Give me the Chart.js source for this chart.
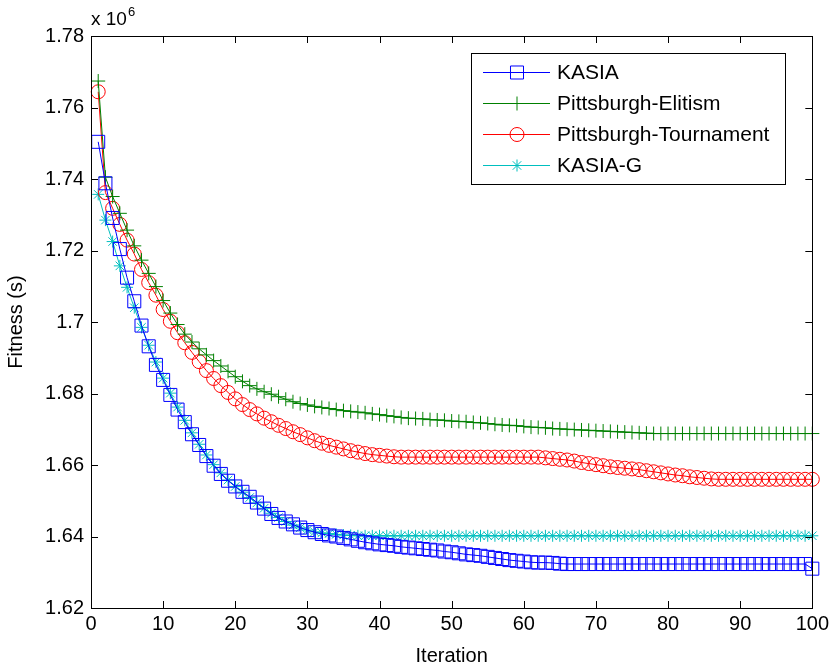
<!DOCTYPE html>
<html>
<head>
<meta charset="utf-8">
<script src="https://cdn.jsdelivr.net/npm/chart.js@4"></script>
<style>
  html, body { margin: 0; padding: 0; background: #fff; }
  canvas { display: block; }
</style>
</head>
<body>
<canvas id="myChart" width="833" height="666"></canvas>
<script>
// iterations 1..100
const iterations = [
  1, 2, 3, 4, 5, 6, 7, 8, 9, 10, 11, 12, 13, 14, 15, 16, 17, 18, 19, 20,
  21, 22, 23, 24, 25, 26, 27, 28, 29, 30, 31, 32, 33, 34, 35, 36, 37, 38, 39, 40,
  41, 42, 43, 44, 45, 46, 47, 48, 49, 50, 51, 52, 53, 54, 55, 56, 57, 58, 59, 60,
  61, 62, 63, 64, 65, 66, 67, 68, 69, 70, 71, 72, 73, 74, 75, 76, 77, 78, 79, 80,
  81, 82, 83, 84, 85, 86, 87, 88, 89, 90, 91, 92, 93, 94, 95, 96, 97, 98, 99, 100
];

// fitness values, x 10^6
const kasia = [
  1.7504, 1.7388, 1.7291, 1.7204, 1.7124, 1.7058, 1.6990, 1.6932, 1.6880, 1.6838,
  1.6796, 1.6755, 1.6720, 1.6686, 1.6656, 1.6625, 1.6598, 1.6575, 1.6556, 1.6540,
  1.6525, 1.6511, 1.6495, 1.6478, 1.6463, 1.6452, 1.6442, 1.6434, 1.6425, 1.6418,
  1.6412, 1.6407, 1.6403, 1.6400, 1.6396, 1.6392, 1.6388, 1.6384, 1.6381, 1.6378,
  1.6376, 1.6374, 1.6371, 1.6369, 1.6367, 1.6365, 1.6363, 1.6361, 1.6358, 1.6356,
  1.6353, 1.6350, 1.6348, 1.6346, 1.6343, 1.6340, 1.6337, 1.6334, 1.6332, 1.6330,
  1.6328, 1.6327, 1.6327, 1.6326, 1.6324, 1.6323, 1.6323, 1.6323, 1.6323, 1.6323,
  1.6323, 1.6323, 1.6323, 1.6323, 1.6323, 1.6323, 1.6323, 1.6323, 1.6323, 1.6323,
  1.6323, 1.6323, 1.6323, 1.6323, 1.6323, 1.6323, 1.6323, 1.6323, 1.6323, 1.6323,
  1.6323, 1.6323, 1.6323, 1.6323, 1.6323, 1.6323, 1.6323, 1.6323, 1.6323, 1.6310
];

const elitism = [
  1.7674, 1.7405, 1.7351, 1.7304, 1.7257, 1.7213, 1.7173, 1.7136, 1.7099, 1.7060,
  1.7025, 1.6993, 1.6966, 1.6944, 1.6925, 1.6908, 1.6892, 1.6877, 1.6862, 1.6847,
  1.6834, 1.6822, 1.6813, 1.6805, 1.6798, 1.6791, 1.6784, 1.6777, 1.6772, 1.6768,
  1.6764, 1.6761, 1.6758, 1.6755, 1.6752, 1.6750, 1.6748, 1.6746, 1.6743, 1.6741,
  1.6738, 1.6736, 1.6733, 1.6731, 1.6730, 1.6729, 1.6727, 1.6726, 1.6725, 1.6723,
  1.6722, 1.6721, 1.6719, 1.6718, 1.6716, 1.6714, 1.6712, 1.6711, 1.6710, 1.6708,
  1.6706, 1.6705, 1.6704, 1.6702, 1.6701, 1.6700, 1.6699, 1.6698, 1.6697, 1.6696,
  1.6695, 1.6694, 1.6693, 1.6692, 1.6691, 1.6690, 1.6689, 1.6688, 1.6688, 1.6688,
  1.6688, 1.6688, 1.6688, 1.6688, 1.6688, 1.6688, 1.6688, 1.6688, 1.6688, 1.6688,
  1.6688, 1.6688, 1.6688, 1.6688, 1.6688, 1.6688, 1.6688, 1.6688, 1.6688, 1.6688
];

const tournament = [
  1.7644, 1.7362, 1.7318, 1.7273, 1.7229, 1.7190, 1.7147, 1.7110, 1.7075, 1.7035,
  1.7002, 1.6970, 1.6942, 1.6915, 1.6889, 1.6864, 1.6842, 1.6822, 1.6803, 1.6785,
  1.6769, 1.6755, 1.6743, 1.6731, 1.6721, 1.6711, 1.6702, 1.6693, 1.6685, 1.6676,
  1.6668, 1.6661, 1.6655, 1.6650, 1.6645, 1.6640, 1.6636, 1.6632, 1.6629, 1.6627,
  1.6625, 1.6623, 1.6622, 1.6622, 1.6622, 1.6622, 1.6622, 1.6622, 1.6622, 1.6622,
  1.6622, 1.6622, 1.6622, 1.6622, 1.6622, 1.6622, 1.6622, 1.6622, 1.6622, 1.6622,
  1.6622, 1.6622, 1.6620, 1.6618, 1.6616, 1.6614, 1.6611, 1.6607, 1.6604, 1.6601,
  1.6598, 1.6595, 1.6593, 1.6591, 1.6589, 1.6587, 1.6584, 1.6581, 1.6578, 1.6575,
  1.6572, 1.6570, 1.6567, 1.6565, 1.6563, 1.6561, 1.6560, 1.6560, 1.6560, 1.6560,
  1.6560, 1.6560, 1.6560, 1.6560, 1.6560, 1.6560, 1.6560, 1.6560, 1.6560, 1.6560
];

const kasiaG = [
  1.7357, 1.7285, 1.7225, 1.7157, 1.7097, 1.7040, 1.6985, 1.6935, 1.6888, 1.6843,
  1.6801, 1.6762, 1.6725, 1.6690, 1.6658, 1.6628, 1.6601, 1.6578, 1.6558, 1.6540,
  1.6524, 1.6509, 1.6494, 1.6479, 1.6465, 1.6453, 1.6442, 1.6432, 1.6424, 1.6418,
  1.6413, 1.6410, 1.6408, 1.6406, 1.6404, 1.6403, 1.6402, 1.6402, 1.6402, 1.6402,
  1.6402, 1.6402, 1.6402, 1.6402, 1.6402, 1.6402, 1.6402, 1.6402, 1.6402, 1.6402,
  1.6402, 1.6402, 1.6402, 1.6402, 1.6402, 1.6402, 1.6402, 1.6402, 1.6402, 1.6402,
  1.6402, 1.6402, 1.6402, 1.6402, 1.6402, 1.6402, 1.6402, 1.6402, 1.6402, 1.6402,
  1.6402, 1.6402, 1.6402, 1.6402, 1.6402, 1.6402, 1.6402, 1.6402, 1.6402, 1.6402,
  1.6402, 1.6402, 1.6402, 1.6402, 1.6402, 1.6402, 1.6402, 1.6402, 1.6402, 1.6402,
  1.6402, 1.6402, 1.6402, 1.6402, 1.6402, 1.6402, 1.6402, 1.6402, 1.6402, 1.6402
];

const xTicks = [0, 10, 20, 30, 40, 50, 60, 70, 80, 90, 100];
const yTicks = [1.62, 1.64, 1.66, 1.68, 1.7, 1.72, 1.74, 1.76, 1.78];

const FONT = "'Liberation Sans', Arial, Helvetica, sans-serif";

function pts(values) {
  return values.map((v, i) => ({ x: iterations[i], y: v }));
}

function series(label, values, color, style, radius) {
  return {
    label: label,
    data: pts(values),
    borderColor: color,
    backgroundColor: "rgba(0,0,0,0)",
    borderWidth: 1,
    pointStyle: style,
    pointRadius: radius,
    pointBorderColor: color,
    pointBackgroundColor: "rgba(0,0,0,0)",
    pointBorderWidth: 1,
    tension: 0,
    clip: false,
  };
}

// box, inward ticks, exponent label and legend (MATLAB look)
const matlabFrame = {
  id: "matlabFrame",
  afterDraw(chart) {
    const { ctx, chartArea: a, scales } = chart;
    const x = scales.x, y = scales.y;
    ctx.save();
    ctx.strokeStyle = "#000";
    ctx.lineWidth = 1;
    ctx.strokeRect(Math.round(a.left) + 0.5, Math.round(a.top) + 0.5,
      Math.round(a.right - a.left), Math.round(a.bottom - a.top));
    ctx.beginPath();
    xTicks.forEach((v) => {
      const px = Math.round(x.getPixelForValue(v)) + 0.5;
      ctx.moveTo(px, a.bottom); ctx.lineTo(px, a.bottom - 7);
      ctx.moveTo(px, a.top); ctx.lineTo(px, a.top + 7);
    });
    yTicks.forEach((v) => {
      const py = Math.round(y.getPixelForValue(v)) + 0.5;
      ctx.moveTo(a.left, py); ctx.lineTo(a.left + 7, py);
      ctx.moveTo(a.right, py); ctx.lineTo(a.right - 7, py);
    });
    ctx.stroke();

    // x 10^6
    ctx.fillStyle = "#000";
    ctx.textBaseline = "alphabetic";
    ctx.textAlign = "left";
    ctx.font = "19px " + FONT;
    ctx.fillText("x 10", a.left, 25);
    const w = ctx.measureText("x 10").width;
    ctx.font = "13px " + FONT;
    ctx.fillText("6", a.left + w + 1, 16);

    // legend
    const lx = 471, ly = 53, lw = 314, lh = 131;
    ctx.fillStyle = "#fff";
    ctx.fillRect(lx, ly, lw, lh);
    ctx.strokeRect(lx + 0.5, ly + 0.5, lw, lh);
    chart.data.datasets.forEach((ds, i) => {
      const ry = 72 + i * 31;
      ctx.strokeStyle = ds.borderColor;
      ctx.lineWidth = 1;
      ctx.beginPath();
      ctx.moveTo(483, ry + 0.5);
      ctx.lineTo(550, ry + 0.5);
      ctx.stroke();
      ctx.fillStyle = "rgba(0,0,0,0)";
      Chart.helpers.drawPoint(ctx, {
        pointStyle: ds.pointStyle, radius: ds.pointRadius, rotation: 0, borderWidth: 1,
      }, 517, ry + 0.5);
      ctx.fillStyle = "#000";
      ctx.font = "21px " + FONT;
      ctx.textBaseline = "middle";
      ctx.fillText(ds.label, 557, ry + 1);
    });
    ctx.restore();
  },
};

var ctx = document.getElementById("myChart").getContext("2d");
var chart = new Chart(ctx, {
  type: "line",
  data: {
    datasets: [
      series("KASIA", kasia, "#0000ff", "rect", 9.2),
      series("Pittsburgh-Elitism", elitism, "#008000", "cross", 7),
      series("Pittsburgh-Tournament", tournament, "#ff0000", "circle", 7),
      series("KASIA-G", kasiaG, "#00bfbf", "star", 6),
    ],
  },
  options: {
    responsive: false,
    animation: false,
    devicePixelRatio: 1,
    layout: { padding: { left: 0, right: 14, top: 36, bottom: 0 } },
    plugins: {
      legend: { display: false },
      tooltip: { enabled: false },
    },
    scales: {
      x: {
        type: "linear",
        min: 0,
        max: 100,
        afterBuildTicks: (s) => { s.ticks = xTicks.map((v) => ({ value: v })); },
        afterFit: (s) => { s.height = 58; },
        grid: { display: false, drawTicks: false },
        border: { display: false },
        ticks: {
          autoSkip: false,
          maxRotation: 0,
          padding: 4,
          color: "#000",
          font: { family: FONT, size: 20 },
        },
        title: {
          display: true,
          text: "Iteration",
          color: "#000",
          font: { family: FONT, size: 20 },
          padding: { top: 0, bottom: -2 },
        },
      },
      y: {
        type: "linear",
        min: 1.62,
        max: 1.78,
        afterBuildTicks: (s) => { s.ticks = yTicks.map((v) => ({ value: v })); },
        afterFit: (s) => { s.width = 91; },
        grid: { display: false, drawTicks: false },
        border: { display: false },
        ticks: {
          padding: 7,
          color: "#000",
          font: { family: FONT, size: 20 },
          callback: (v) => String(Number(v.toFixed(2))),
        },
        title: {
          display: true,
          text: "Fitness (s)",
          color: "#000",
          font: { family: FONT, size: 20 },
          padding: { top: 4, bottom: 0 },
        },
      },
    },
  },
  plugins: [matlabFrame],
});
</script>
</body>
</html>
